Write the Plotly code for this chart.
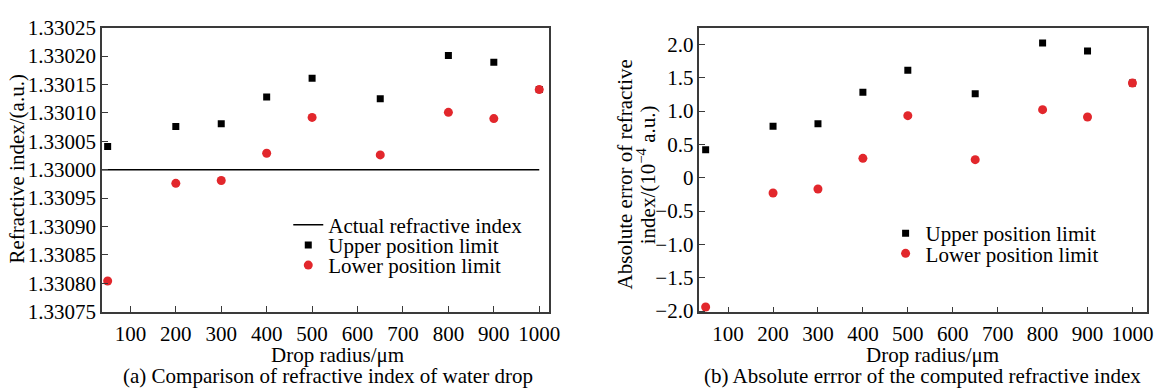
import plotly.graph_objects as go

# ---------------- data ----------------
radius = [50, 200, 300, 400, 500, 650, 800, 900, 1000]

# panel (a): refractive index (a.u.)
upper_a = [1.330041, 1.330076, 1.330081, 1.330128, 1.330161, 1.330125, 1.330201, 1.330189, 1.330141]
lower_a = [1.329804, 1.329976, 1.329981, 1.330029, 1.330092, 1.330026, 1.330101, 1.330090, 1.330141]
actual_x = [0, 1000]
actual_y = [1.33, 1.33]

# panel (b): absolute error (1e-4 a.u.)
upper_b = [0.42, 0.77, 0.81, 1.28, 1.61, 1.26, 2.02, 1.90, 1.42]
lower_b = [-1.94, -0.23, -0.17, 0.29, 0.93, 0.27, 1.02, 0.91, 1.42]

x_ticks = [100, 200, 300, 400, 500, 600, 700, 800, 900, 1000]
ya_tickvals = [1.32975, 1.32980, 1.32985, 1.32990, 1.32995, 1.33000,
               1.33005, 1.33010, 1.33015, 1.33020, 1.33025]
ya_ticktext = ["1.33075", "1.33080", "1.33085", "1.33090", "1.33095", "1.33000",
               "1.33005", "1.33010", "1.33015", "1.33020", "1.33025"]
yb_tickvals = [-2.0, -1.5, -1.0, -0.5, 0, 0.5, 1.0, 1.5, 2.0]
yb_ticktext = ["\u22122.0", "\u22121.5", "\u22121.0", "\u22120.5", "0", "0.5", "1.0", "1.5", "2.0"]

# ---------------- style ----------------
W, H = 1171, 391
FONT = "Liberation Serif, Times New Roman, serif"
RED = "#e2272c"
AXC = "#3a3a3a"

def px(x):
    return x / W

def py(y):
    return 1 - y / H

fig = go.Figure()

fig.add_trace(go.Scatter(x=actual_x, y=actual_y, mode="lines",
                         line=dict(color="black", width=1.6),
                         name="Actual refractive index", xaxis="x", yaxis="y",
                         legend="legend"))
fig.add_trace(go.Scatter(x=radius, y=upper_a, mode="markers",
                         marker=dict(symbol="square", size=7, color="black"),
                         name="Upper position limit", xaxis="x", yaxis="y",
                         legend="legend2"))
fig.add_trace(go.Scatter(x=radius, y=lower_a, mode="markers",
                         marker=dict(symbol="circle", size=9, color=RED),
                         name="Lower position limit", xaxis="x", yaxis="y",
                         legend="legend3"))

fig.add_trace(go.Scatter(x=radius, y=upper_b, mode="markers",
                         marker=dict(symbol="square", size=7, color="black"),
                         name="Upper position limit", xaxis="x2", yaxis="y2",
                         legend="legend4"))
fig.add_trace(go.Scatter(x=radius, y=lower_b, mode="markers",
                         marker=dict(symbol="circle", size=9, color=RED),
                         name="Lower position limit", xaxis="x2", yaxis="y2",
                         legend="legend5"))

axis_common = dict(showline=True, linecolor=AXC, linewidth=1.5, mirror=True,
                   ticks="inside", ticklen=6, tickwidth=1.3, tickcolor=AXC,
                   showgrid=False, zeroline=False,
                   tickfont=dict(family=FONT, size=21, color="black"))

fig.update_layout(
    width=W, height=H, margin=dict(l=0, r=0, t=0, b=0),
    paper_bgcolor="white", plot_bgcolor="white",
    font=dict(family=FONT, size=21, color="black"),
    showlegend=True,
    xaxis=dict(domain=[px(103), px(554)], range=[37.6, 1021], anchor="y",
               tickvals=x_ticks, ticklabelstandoff=2, **axis_common),
    yaxis=dict(domain=[py(319.3), py(16.7)], range=[1.32975, 1.33025], anchor="x",
               tickvals=ya_tickvals, ticktext=ya_ticktext, **axis_common),
    xaxis2=dict(domain=[px(706), px(1157.7)], range=[36, 1032], anchor="y2",
                tickvals=x_ticks, ticklabelstandoff=2, **axis_common),
    yaxis2=dict(domain=[py(320), py(16.7)], range=[-2.02, 2.25], anchor="x2",
                tickvals=yb_tickvals, ticktext=yb_ticktext, **axis_common),
)

leg_common = dict(xanchor="left", yanchor="middle", bgcolor="rgba(0,0,0,0)",
                  borderwidth=0, font=dict(family=FONT, size=21, color="black"))
fig.update_layout(
    legend=dict(x=px(331 - 40), y=py(227), **leg_common),
    legend2=dict(x=px(331 - 40), y=py(248.5), **leg_common),
    legend3=dict(x=px(331 - 40), y=py(270), **leg_common),
    legend4=dict(x=px(934 - 40), y=py(236), **leg_common),
    legend5=dict(x=px(934 - 40), y=py(257.5), **leg_common),
)

ann = [
    dict(text="Drop radius/\u03bcm", x=px(341), y=py(365)),
    dict(text="(a) Comparison of refractive index of water drop", x=px(331), y=py(388)),
    dict(text="Drop radius/\u03bcm", x=px(941), y=py(365)),
    dict(text="(b) Absolute errror of the computed refractive index", x=px(931), y=py(388)),
    dict(text="Refractive index/(a.u.)", x=px(17), y=py(167), textangle=-90),
    dict(text="Absolute error of refractive", x=px(631), y=py(173), textangle=-90),
    dict(text="index/(10<sup>\u22124</sup> a.u.)", x=px(653), y=py(173), textangle=-90),
]
for a in ann:
    fig.add_annotation(xref="paper", yref="paper", showarrow=False,
                       xanchor="center", yanchor="middle",
                       font=dict(family=FONT, size=21, color="black"), **a)

fig.write_html("out.html")
